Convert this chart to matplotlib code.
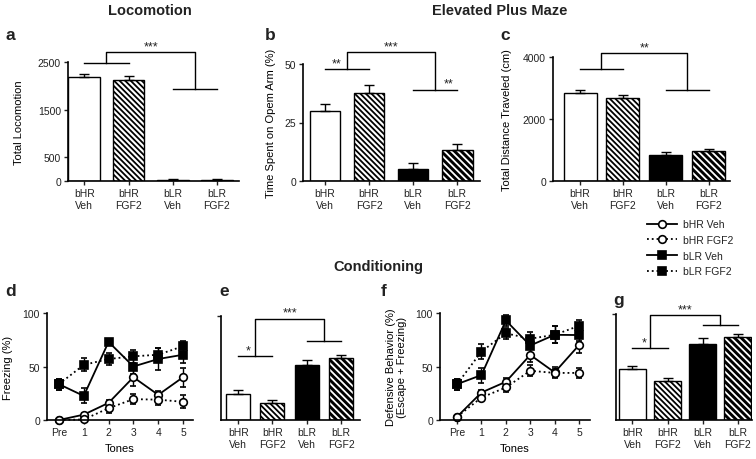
import matplotlib
matplotlib.use("Agg")
from matplotlib import pyplot as plt
from matplotlib.lines import Line2D
import numpy as np

plt.rcParams["font.family"] = ["Liberation Sans", "DejaVu Sans"]
plt.rcParams["hatch.linewidth"] = 1.3
plt.rcParams["axes.linewidth"] = 1.2
plt.rcParams["text.color"] = "#222222"
plt.rcParams["xtick.color"] = "#222222"
plt.rcParams["ytick.color"] = "#222222"

# group names for bar panels
groups = ["bHR\nVeh", "bHR\nFGF2", "bLR\nVeh", "bLR\nFGF2"]
tones = ["Pre", "1", "2", "3", "4", "5"]
legend_names = ["bHR Veh", "bHR FGF2", "bLR Veh", "bLR FGF2"]

# a - locomotion
loco = [2180, 2115, 30, 25]
loco_err = [75, 90, 10, 8]
# b - open arm time
openarm = [29.9, 37.6, 5.1, 13.2]
openarm_err = [3.0, 3.4, 2.5, 2.6]
# c - distance traveled
dist = [2830, 2690, 850, 955]
dist_err = [105, 95, 70, 65]
# d - freezing across tones
frz_hr_veh = [0, 5, 16, 40, 23.5, 40]
frz_hr_veh_err = [1, 2, 3, 8, 4, 9]
frz_hr_fgf = [0, 0.5, 11, 19.5, 19, 17]
frz_hr_fgf_err = [1, 1, 4, 5, 5, 6]
frz_lr_veh = [33.5, 22.5, 73, 50, 57, 61]
frz_lr_veh_err = [5, 7, 3, 7, 10, 8]
frz_lr_fgf = [33.5, 51.5, 57, 59.5, 61, 69]
frz_lr_fgf_err = [5, 6, 6, 6, 6, 5]
# e - mean freezing
frz_mean = [24.7, 16, 52.5, 59.6]
frz_mean_err = [3.8, 3, 4.9, 2.9]
# f - defensive behavior across tones
def_hr_veh = [3, 25.7, 35.7, 60.8, 44.5, 70]
def_hr_veh_err = [2, 2, 4, 7, 5, 7]
def_hr_fgf = [3, 21, 30.4, 46, 44, 44]
def_hr_fgf_err = [2, 2, 4, 5, 4, 5]
def_lr_veh = [33.5, 42, 93, 69.6, 79.6, 79.4]
def_lr_veh_err = [5, 7, 5, 8, 8, 6]
def_lr_fgf = [33.5, 64, 81, 76, 79.6, 88]
def_lr_fgf_err = [5, 7, 5, 6, 8, 5]
# g - mean defensive behavior
def_mean = [48, 37, 72, 78]
def_mean_err = [3, 3, 5.6, 3.4]

W, H = 756, 460
fig = plt.figure(figsize=(W / 100, H / 100), dpi=100)


def box(l, r, t, b):
    return [l / W, 1 - b / H, (r - l) / W, (b - t) / H]


def style(ax):
    ax.spines["top"].set_visible(False)
    ax.spines["right"].set_visible(False)
    ax.tick_params(labelsize=7.5, length=3, width=1, pad=2)


def bars(ax, vals, errs, width, xlim):
    x = np.arange(4)
    ax.bar(x[0], vals[0], width, color="white", edgecolor="black", lw=1)
    ax.bar(x[1], vals[1], width, color="white", edgecolor="black", lw=1, hatch="\\" * 6)
    ax.bar(x[2], vals[2], width, color="black", edgecolor="black", lw=1)
    ax.bar(x[3], vals[3], width, color="black", edgecolor="white", lw=0, hatch="\\" * 5)
    ax.bar(x[3], vals[3], width, fill=False, edgecolor="black", lw=1)
    ax.errorbar(x, vals, yerr=[np.zeros(4), errs], fmt="none", ecolor="black",
                elinewidth=1, capsize=3.5, capthick=1)
    ax.set_xticks(x)
    ax.set_xticklabels(groups, linespacing=1.3)
    ax.set_xlim(*xlim)
    style(ax)


def bracket(ax, yl, yr, yt, stars):
    kw = dict(color="black", lw=1, clip_on=False)
    ax.plot([0, 1], [yl, yl], **kw)
    ax.plot([2, 3], [yr, yr], **kw)
    ax.plot([0.5, 0.5, 2.5, 2.5], [yl, yt, yt, yr], **kw)
    ax.text(1.5, yt, stars, ha="center", va="bottom", fontsize=9, clip_on=False)


def lines(ax, series, xlim, ylabel):
    x = np.arange(6)
    for (vals, errs), ls, mfc, mk in zip(series, ["-", ":", "-", ":"],
                                         ["white", "white", "black", "black"],
                                         ["o", "o", "s", "s"]):
        ax.errorbar(x, vals, yerr=errs, color="black", ls=ls, lw=1.3, marker=mk,
                    ms=5.5, mfc=mfc, mec="black", mew=1.2, capsize=2.5,
                    elinewidth=1, clip_on=False)
    ax.set_xticks(x)
    ax.set_xticklabels(tones)
    ax.set_xlim(*xlim)
    ax.set_ylim(0, 100)
    ax.set_yticks([0, 50, 100])
    ax.set_xlabel("Tones", fontsize=8)
    ax.set_ylabel(ylabel, fontsize=8)
    style(ax)


# a
ax = fig.add_axes(box(68, 239, 63, 182))
bars(ax, loco, loco_err, 0.72, (-0.37, 3.5))
ax.set_ylim(0, 2500)
ax.set_yticks([0, 500, 1500, 2500])
ax.set_ylabel("Total Locomotion", fontsize=8, labelpad=10)
bracket(ax, 2480, 1930, 2710, "***")

# b
ax = fig.add_axes(box(303, 480, 65, 182))
bars(ax, openarm, openarm_err, 0.7, (-0.5, 3.52))
ax.set_ylim(0, 50)
ax.set_yticks([0, 25, 50])
ax.set_ylabel("Time Spent on Opem Arm (%)", fontsize=8, labelpad=6)
bracket(ax, 47.7, 39, 55.1, "***")
ax.text(0.27, 47.7, "**", ha="center", va="bottom", fontsize=9)
ax.text(2.8, 39, "**", ha="center", va="bottom", fontsize=9)

# c
ax = fig.add_axes(box(553, 730, 58, 182))
bars(ax, dist, dist_err, 0.77, (-0.63, 3.5))
ax.set_ylim(0, 4000)
ax.set_yticks([0, 2000, 4000])
ax.set_ylabel("Total Distance Traveled (cm)", fontsize=8, labelpad=8)
bracket(ax, 3610, 2945, 4120, "**")

# d
ax = fig.add_axes(box(47, 193, 314, 421))
lines(ax, [(frz_hr_veh, frz_hr_veh_err), (frz_hr_fgf, frz_hr_fgf_err),
           (frz_lr_veh, frz_lr_veh_err), (frz_lr_fgf, frz_lr_fgf_err)],
      (-0.48, 5.4), "Freezing (%)")
ax.yaxis.labelpad = 7

# e
ax = fig.add_axes(box(221, 360, 317, 421))
bars(ax, frz_mean, frz_mean_err, 0.7, (-0.5, 3.55))
ax.set_ylim(0, 100)
ax.set_yticks([100])
ax.set_yticklabels([""])
bracket(ax, 61.5, 75.6, 97.4, "***")
ax.text(0.3, 61.5, "*", ha="center", va="bottom", fontsize=9)

# f
ax = fig.add_axes(box(440, 590, 314, 421))
lines(ax, [(def_hr_veh, def_hr_veh_err), (def_hr_fgf, def_hr_fgf_err),
           (def_lr_veh, def_lr_veh_err), (def_lr_fgf, def_lr_fgf_err)],
      (-0.7, 5.45), "Defensive Behavior (%)\n(Escape + Freezing)")
ax.yaxis.labelpad = 6

# g
ax = fig.add_axes(box(616, 752, 315, 421))
bars(ax, def_mean, def_mean_err, 0.77, (-0.47, 3.41))
ax.set_ylim(0, 100)
ax.set_yticks([100])
ax.set_yticklabels([""])
bracket(ax, 67.8, 89.6, 98.6, "***")
ax.text(0.33, 67.8, "*", ha="center", va="bottom", fontsize=9)

# legend built from plain line handles
leg_handles = [Line2D([], [], color="black", ls=ls, lw=1.3, marker=mk, ms=5.5,
                      mfc=mfc, mec="black", mew=1.2)
               for ls, mk, mfc in [("-", "o", "white"), (":", "o", "white"),
                                   ("-", "s", "black"), (":", "s", "black")]]
fig.legend(leg_handles, legend_names, loc="upper left",
           bbox_to_anchor=(642 / W, 1 - 215 / H), frameon=False, fontsize=7.5,
           handlelength=2.9, handletextpad=0.5, labelspacing=0.55, borderpad=0)

# titles and panel letters
fig.text(150 / W, 1 - 11 / H, "Locomotion", ha="center", va="center", fontsize=10.5, fontweight="bold")
fig.text(500 / W, 1 - 11 / H, "Elevated Plus Maze", ha="center", va="center", fontsize=10.5, fontweight="bold")
fig.text(378 / W, 1 - 267 / H, "Conditioning", ha="center", va="center", fontsize=10.5, fontweight="bold")
for lab, x, y in [("a", 5, 36), ("b", 265, 36), ("c", 500, 36),
                  ("d", 5, 292), ("e", 219, 292), ("f", 381, 292), ("g", 613, 300)]:
    fig.text(x / W, 1 - y / H, lab, ha="left", va="center", fontsize=12.5, fontweight="bold")

fig.savefig("out.png", dpi=100)
